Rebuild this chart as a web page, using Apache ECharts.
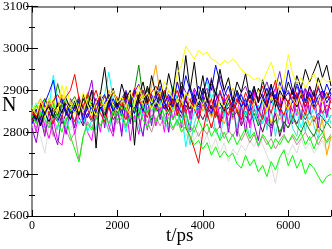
<!DOCTYPE html>
<html><head><meta charset="utf-8">
<script src="https://cdn.jsdelivr.net/npm/echarts@6/dist/echarts.min.js"></script>
<style>html,body{margin:0;padding:0;background:#fff}#c{width:332px;height:249px}</style>
</head><body><div id="c"></div>
<script>
const times = [0,100,200,300,400,500,600,700,800,900,1000,1100,1200,1300,1400,1500,1600,1700,1800,1900,2000,2100,2200,2300,2400,2500,2600,2700,2800,2900,3000,3100,3200,3300,3400,3500,3600,3700,3800,3900,4000,4100,4200,4300,4400,4500,4600,4700,4800,4900,5000,5100,5200,5300,5400,5500,5600,5700,5800,5900,6000,6100,6200,6300,6400,6500,6600,6700,6800,6900,7000];
const xTicks = [0, 2000, 4000, 6000];
const yTicks = [2600, 2700, 2800, 2900, 3000, 3100];

const sGrey = [2820,2800,2790,2750,2815,2830,2810,2840,2820,2805, 2830,2815,2845,2825,2810,2835,2850,2820,2840,2825, 2845,2830,2815,2850,2835,2820,2840,2810,2830,2815, 2835,2820,2840,2805,2825,2810,2790,2815,2780,2800, 2770,2795,2760,2785,2750,2775,2730,2760,2745,2770, 2755,2780,2765,2790,2770,2745,2720,2678,2740,2760, 2745,2770,2750,2785,2760,2775,2750,2765,2780,2755, 2770];
const sBrown = [2830,2810,2845,2800,2825,2790,2815,2840,2805,2780, 2800,2733,2790,2825,2810,2840,2815,2830,2805,2845, 2820,2835,2810,2850,2830,2815,2845,2825,2800,2835, 2815,2840,2820,2805,2830,2810,2825,2800,2815,2790, 2810,2795,2820,2800,2815,2785,2805,2790,2810,2780, 2800,2775,2795,2765,2790,2770,2785,2760,2780,2795, 2775,2790,2770,2785,2800,2780,2795,2770,2790,2780, 2795];
const sMaroon = [2825,2845,2815,2840,2860,2830,2850,2820,2845,2830, 2860,2835,2815,2845,2825,2850,2870,2840,2860,2830, 2845,2870,2850,2825,2860,2840,2875,2850,2830,2860, 2840,2865,2850,2880,2855,2835,2865,2845,2870,2850, 2830,2855,2840,2870,2820,2845,2860,2835,2850,2815, 2840,2820,2855,2830,2800,2835,2815,2845,2790,2825, 2810,2840,2820,2845,2830,2850,2825,2845,2835,2820, 2840];
const sTurquoise = [2865,2825,2860,2810,2875,2835,2805,2865,2885,2830, 2815,2870,2830,2885,2840,2805,2875,2835,2800,2865, 2825,2875,2835,2885,2845,2810,2795,2860,2820,2870, 2885,2830,2800,2865,2815,2880,2835,2770,2820,2855, 2875,2825,2865,2800,2785,2845,2800,2860,2810,2865, 2825,2790,2865,2815,2875,2805,2855,2790,2850,2800, 2860,2810,2790,2855,2800,2865,2815,2785,2840,2855, 2820];
const sGreen4 = [2850,2830,2865,2845,2880,2860,2916,2875,2850,2870, 2885,2860,2840,2870,2855,2880,2865,2845,2875,2860, 2880,2850,2890,2870,2900,2960,2880,2905,2870,2890, 2865,2895,2875,2850,2880,2860,2885,2840,2870,2855, 2880,2850,2865,2835,2860,2845,2870,2840,2855,2830, 2850,2825,2845,2815,2840,2820,2810,2830,2800,2825, 2810,2835,2815,2800,2825,2805,2790,2815,2800,2825, 2810];
const sIndigo = [2845,2825,2860,2840,2875,2850,2830,2865,2845,2880, 2860,2885,2850,2870,2900,2865,2880,2855,2890,2870, 2855,2880,2900,2870,2895,2915,2880,2900,2875,2890, 2910,2885,2870,2900,2880,2920,2895,2870,2905,2885, 2870,2895,2915,2890,2935,2900,2880,2905,2870,2895, 2910,2880,2900,2870,2895,2920,2885,2905,2945,2890, 2900,2875,2910,2885,2905,2880,2895,2870,2900,2885, 2895];
const sOrange = [2835,2860,2880,2850,2870,2845,2865,2890,2855,2875, 2850,2880,2860,2895,2870,2850,2880,2860,2900,2870, 2885,2860,2845,2880,2900,2870,2890,2865,2910,2960, 2890,2870,2900,2880,2920,2895,2870,2905,2860,2885, 2850,2870,2835,2860,2840,2820,2850,2830,2860,2840, 2870,2850,2880,2855,2835,2860,2820,2850,2830,2845, 2865,2840,2855,2830,2850,2815,2840,2800,2830,2745, 2790];
const sMagenta = [2840,2800,2860,2815,2785,2830,2780,2769,2825,2855, 2795,2845,2860,2800,2780,2850,2800,2865,2815,2790, 2850,2800,2865,2780,2840,2795,2855,2805,2870,2815, 2860,2800,2885,2830,2870,2810,2890,2830,2900,2845, 2890,2905,2845,2895,2830,2885,2815,2870,2890,2820, 2880,2810,2895,2835,2885,2820,2880,2905,2840,2890, 2820,2885,2840,2900,2850,2910,2860,2830,2895,2845, 2885];
const sViolet = [2810,2775,2835,2790,2850,2800,2770,2840,2795,2855, 2810,2870,2820,2885,2924,2845,2895,2810,2875,2800, 2865,2790,2880,2820,2895,2835,2790,2880,2815,2890, 2830,2885,2800,2895,2840,2910,2850,2805,2885,2830, 2900,2835,2930,2860,2810,2880,2800,2875,2790,2865, 2800,2875,2820,2780,2850,2885,2790,2860,2895,2800, 2875,2820,2890,2830,2905,2845,2900,2810,2885,2835, 2880];
const sCyan = [2850,2870,2840,2880,2860,2936,2870,2845,2810,2835, 2855,2820,2840,2800,2830,2870,2850,2890,2943,2880, 2860,2835,2800,2845,2825,2860,2840,2875,2850,2880, 2865,2890,2870,2910,2880,2850,2765,2820,2845,2870, 2900,2920,2880,2905,2870,2840,2885,2860,2895,2875, 2840,2870,2830,2865,2820,2850,2880,2845,2870,2835, 2860,2825,2850,2810,2845,2830,2860,2835,2850,2820, 2840];
const sBlack2 = [2855,2830,2870,2845,2825,2860,2840,2875,2850,2830, 2865,2845,2880,2855,2870,2840,2860,2835,2875,2850, 2880,2860,2895,2870,2855,2890,2865,2910,2880,2860, 2895,2870,2850,2885,2860,2900,2875,2855,2890,2865, 2905,2880,2855,2895,2870,2850,2885,2860,2900,2875, 2860,2890,2870,2905,2880,2860,2895,2875,2850,2885, 2870,2900,2860,2890,2875,2910,2885,2930,2900,2880, 2905];
const sRed2 = [2830,2850,2835,2865,2845,2820,2855,2835,2870,2850, 2825,2860,2840,2855,2830,2870,2845,2825,2860,2840, 2870,2850,2830,2865,2845,2880,2855,2835,2870,2850, 2885,2860,2840,2875,2900,2865,2845,2880,2855,2830, 2870,2845,2810,2850,2825,2860,2840,2875,2850,2830, 2865,2840,2880,2855,2830,2870,2845,2885,2860,2840, 2875,2850,2895,2865,2840,2880,2855,2870,2845,2865, 2855];
const sGreen2 = [2845,2865,2840,2880,2855,2870,2835,2860,2880,2850, 2870,2845,2865,2890,2860,2840,2875,2855,2885,2860, 2840,2870,2850,2880,2855,2835,2865,2845,2870,2850, 2865,2840,2855,2830,2850,2820,2845,2815,2800,2830, 2805,2820,2790,2810,2780,2800,2775,2795,2770,2790, 2810,2785,2800,2770,2795,2780,2760,2785,2770,2790, 2775,2795,2780,2800,2770,2790,2760,2785,2800,2775, 2790];
const sBlue2 = [2835,2855,2820,2845,2865,2840,2825,2850,2870,2845, 2860,2880,2855,2835,2865,2845,2875,2890,2860,2880, 2855,2875,2895,2865,2845,2880,2900,2870,2890,2860, 2880,2855,2875,2895,2865,2845,2880,2910,2875,2860, 2885,2860,2845,2875,2895,2865,2880,2850,2870,2890, 2860,2900,2875,2850,2880,2905,2870,2890,2860,2880, 2895,2870,2920,2885,2860,2890,2870,2905,2880,2915, 2890];
const sYellow2 = [2845,2870,2855,2835,2860,2880,2850,2875,2910,2865, 2845,2870,2850,2880,2860,2840,2875,2855,2885,2865, 2850,2875,2860,2840,2870,2895,2865,2880,2855,2875, 2860,2885,2870,2850,2880,2860,2895,2870,2855,2880, 2865,2890,2870,2850,2875,2860,2885,2905,2870,2860, 2880,2855,2870,2900,2875,2850,2885,2865,2890,2870, 2855,2880,2865,2895,2870,2885,2860,2880,2870,2890, 2875];
const sRed = [2850,2835,2865,2880,2860,2875,2890,2870,2885,2900, 2938,2880,2860,2890,2875,2900,2865,2885,2870,2895, 2880,2860,2890,2870,2905,2880,2900,2865,2895,2910, 2880,2900,2860,2890,2840,2870,2810,2790,2760,2726, 2800,2850,2880,2840,2900,2870,2890,2850,2880,2860, 2895,2870,2900,2880,2910,2870,2890,2924,2860,2890, 2870,2905,2880,2900,2860,2890,2875,2910,2880,2895, 2870];
const sBlue = [2820,2845,2830,2870,2895,2924,2860,2880,2840,2865, 2850,2875,2830,2860,2845,2880,2855,2870,2890,2850, 2870,2840,2885,2860,2900,2875,2850,2890,2865,2880, 2905,2870,2890,2860,2920,2880,2935,2900,2870,2910, 2890,2930,2900,2960,2920,2885,2910,2870,2895,2860, 2880,2850,2905,2875,2890,2860,2910,2880,2920,2890, 2948,2900,2880,2910,2870,2895,2860,2885,2900,2870, 2890];
const sGreen = [2840,2820,2850,2830,2810,2845,2825,2800,2835,2790, 2760,2729,2790,2820,2805,2835,2815,2840,2820,2850, 2830,2845,2815,2840,2825,2855,2830,2810,2840,2825, 2850,2820,2835,2810,2830,2800,2815,2790,2770,2780, 2760,2775,2745,2765,2740,2755,2741,2750,2725,2714, 2745,2720,2735,2705,2721,2694,2730,2710,2740,2757, 2720,2745,2714,2735,2700,2725,2714,2695,2678,2694, 2700];
const sBlack = [2830,2845,2815,2850,2860,2835,2870,2845,2880,2855, 2875,2840,2890,2860,2900,2762,2890,2955,2870,2905, 2860,2915,2880,2900,2769,2885,2920,2870,2935,2890, 2925,2880,2940,2895,2970,2890,2983,2900,2967,2880, 2935,2870,2925,2890,2950,2900,2930,2875,2920,2895, 2940,2880,2910,2870,2925,2885,2915,2860,2900,2880, 2920,2890,2935,2905,2950,2920,2945,2971,2930,2960, 2910];
const sYellow = [2860,2840,2875,2850,2880,2860,2845,2912,2870,2855, 2880,2850,2895,2865,2840,2875,2890,2860,2880,2900, 2870,2885,2860,2895,2875,2910,2880,2895,2870,2905, 2890,2920,2900,2880,2940,2960,3005,2990,2975,2995, 2985,2991,2975,2970,2960,2971,2965,2975,2964,2950, 2940,2935,2925,2930,2920,2945,2967,2930,2900,2925, 2985,2940,2915,2930,2905,2925,2940,2910,2930,2920, 2925];

const seriesList = [
  ['grey', '#dcdcdc', sGrey], ['brown', '#bc8f8f', sBrown], ['maroon', '#670748', sMaroon],
  ['turquoise', '#40e0d0', sTurquoise], ['green4', '#008b00', sGreen4], ['indigo', '#7221bc', sIndigo],
  ['orange', '#ffa500', sOrange], ['magenta', '#ff00ff', sMagenta], ['violet', '#9400d3', sViolet],
  ['cyan', '#00ffff', sCyan], ['black2', '#000000', sBlack2], ['red2', '#ff0000', sRed2],
  ['green2', '#00ff00', sGreen2], ['blue2', '#0000ff', sBlue2], ['yellow2', '#ffff00', sYellow2],
  ['red', '#ff0000', sRed], ['blue', '#0000ff', sBlue], ['green', '#00ff00', sGreen],
  ['black', '#000000', sBlack], ['yellow', '#ffff00', sYellow]
];

const font = '"Liberation Serif","Times New Roman",serif';
const chart = echarts.init(document.getElementById('c'), null, {renderer: 'canvas'});
const xBase = {
  type: 'value', min: 0, max: 7000, interval: 2000,
  axisTick: {inside: true, length: 6, lineStyle: {color: '#000'}},
  minorTick: {show: true, splitNumber: 2, length: 3, lineStyle: {color: '#000'}},
  splitLine: {show: false}, minorSplitLine: {show: false}
};
const yBase = {
  type: 'value', min: 2600, max: 3100, interval: 100,
  axisTick: {inside: true, length: 6, lineStyle: {color: '#000'}},
  minorTick: {show: true, splitNumber: 2, length: 3, lineStyle: {color: '#000'}},
  splitLine: {show: false}, minorSplitLine: {show: false}
};
chart.setOption({
  animation: false,
  backgroundColor: '#fff',
  grid: {left: 30, right: 1, top: 6, bottom: 33, containLabel: false},
  xAxis: [
    Object.assign({}, xBase, {
      position: 'bottom',
      axisLine: {lineStyle: {color: '#000', width: 1}},
      axisLabel: {show: true, showMaxLabel: false, margin: 4, color: '#000', fontFamily: font, fontSize: 12,
        formatter: v => xTicks.includes(v) ? String(v) : ''}
    }),
    Object.assign({}, xBase, {
      position: 'top',
      axisLine: {lineStyle: {color: '#8a8a8a', width: 2}},
      axisLabel: {show: false}
    })
  ],
  yAxis: [
    Object.assign({}, yBase, {
      position: 'left',
      axisLine: {lineStyle: {color: '#8a8a8a', width: 2}},
      axisLabel: {show: true, margin: 3, color: '#000', fontFamily: font, fontSize: 13,
        formatter: v => yTicks.includes(v) ? String(v) : ''}
    }),
    Object.assign({}, yBase, {
      position: 'right',
      axisLine: {lineStyle: {color: '#8a8a8a', width: 2}},
      axisLabel: {show: false}
    })
  ],
  graphic: [
    {type: 'text', left: 2, top: 96, style: {text: 'N', font: '20px ' + font, fill: '#000'}},
    {type: 'text', left: 166, top: 227, style: {text: 't/ps', font: '19px ' + font, fill: '#000'}}
  ],
  series: seriesList.map(([name, color, vals]) => ({
    name: name, type: 'line', xAxisIndex: 0, yAxisIndex: 0,
    showSymbol: false, symbol: 'none',
    lineStyle: {color: color, width: 1},
    data: times.map((t, i) => [t, vals[i]])
  }))
});
</script>
</body></html>
